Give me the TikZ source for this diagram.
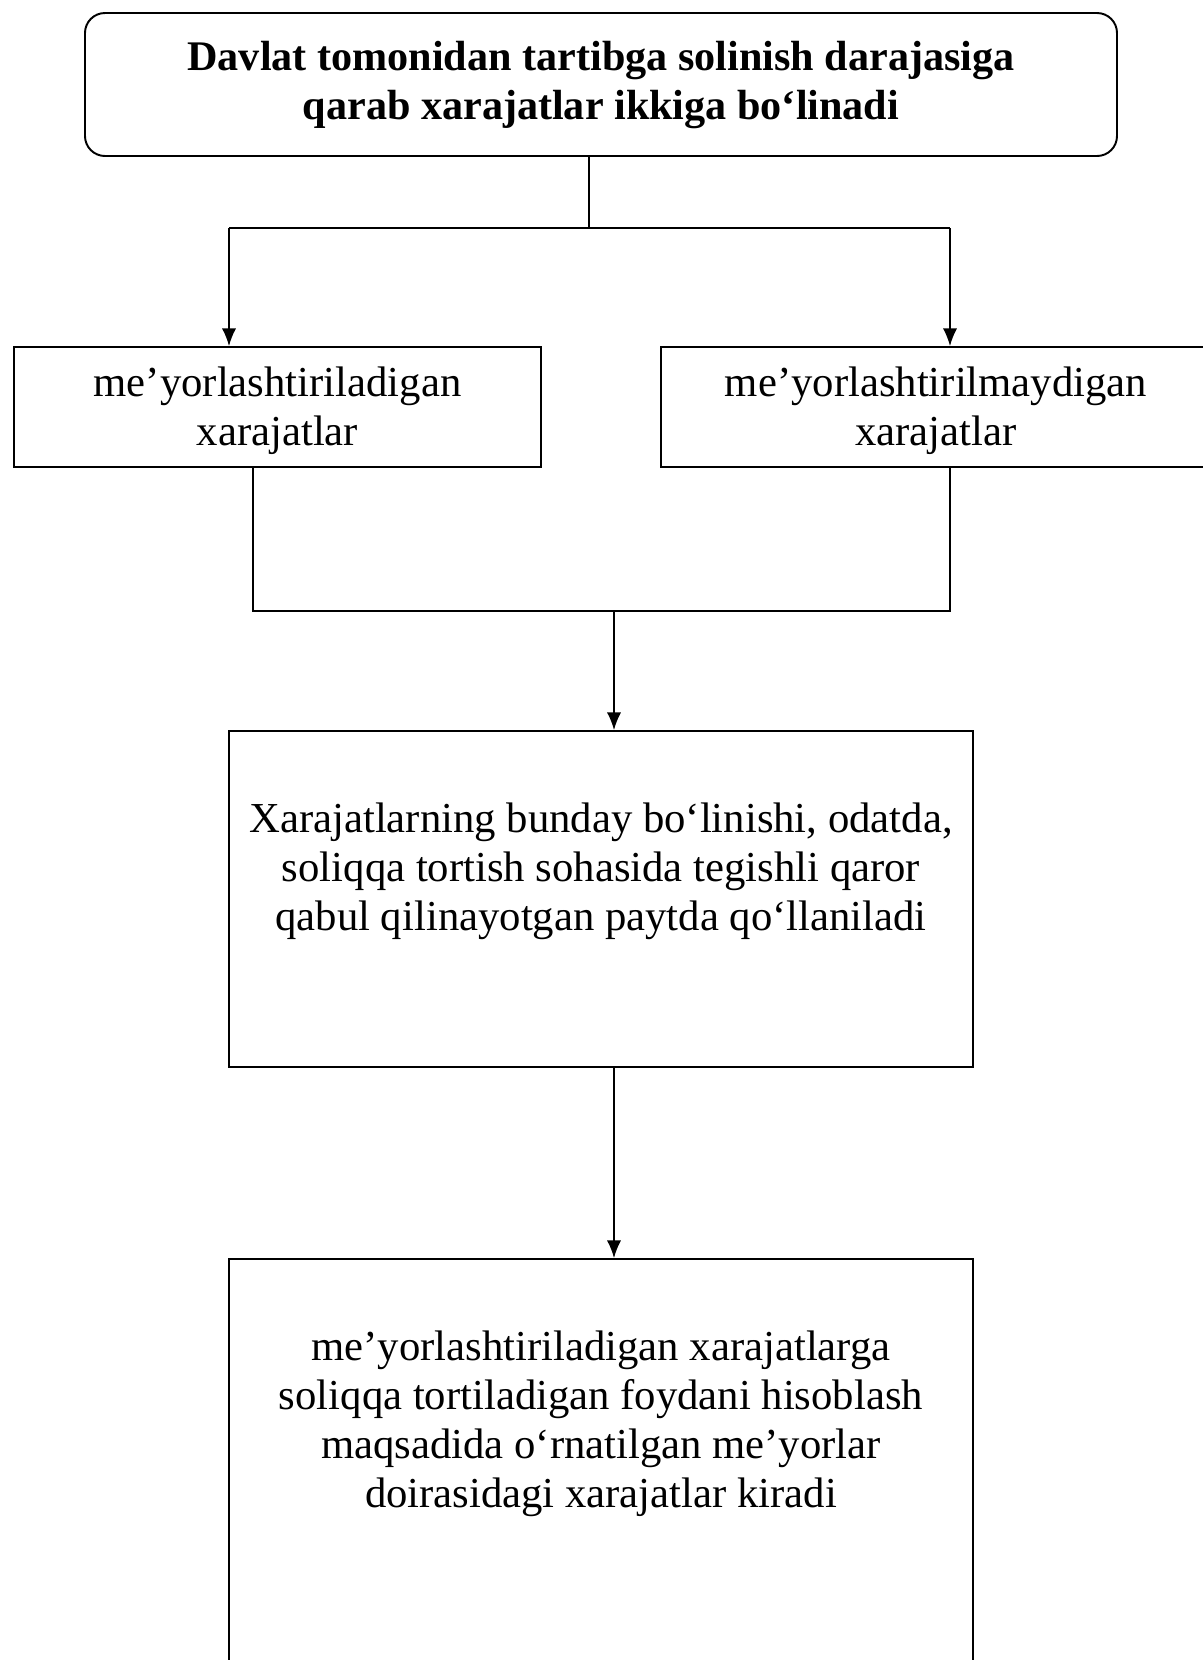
\documentclass[tikz,border=0pt]{standalone}
\usepackage{fontspec}
\setmainfont{Liberation Serif}
\usepackage{tikz}
\usetikzlibrary{arrows.meta,calc}

\begin{document}
\begin{tikzpicture}[x=0.2mm, y=-0.2mm, >={Latex[length=10pt,width=8pt]},
    box/.style={draw, line width=1.1pt, inner sep=0pt},
    txt/.style={align=center, font=\fontsize{24.3}{27.8}\selectfont},
    line/.style={line width=0.8pt}]
    % Chegara
    \clip (0,0) rectangle (1203,1660);

    % Bloklar
    \node[box, rounded corners=4mm, minimum width=206.4mm, minimum height=28.6mm] (top) at (601,84.5) {};
    \node[txt, font=\fontsize{24}{27.8}\selectfont\bfseries] (toptxt) at (601,85)
        {Davlat tomonidan tartibga solinish darajasiga\\qarab xarajatlar ikkiga bo‘linadi};

    \node[box, minimum width=105.4mm, minimum height=24mm] (left) at (277.5,407) {};
    \node[txt] (lefttxt) at (277.5,411) {me’yorlashtiriladigan\\xarajatlar};

    \node[box, minimum width=110.4mm, minimum height=24mm] (right) at (937,407) {};
    \node[txt] (righttxt) at (936,411) {me’yorlashtirilmaydigan\\xarajatlar};

    \node[box, minimum width=148.8mm, minimum height=67.2mm] (mid) at (601,899) {};
    \node[txt] (midtxt) at (601,871)
        {Xarajatlarning bunday bo‘linishi, odatda,\\soliqqa tortish sohasida tegishli qaror\\qabul qilinayotgan paytda qo‘llaniladi};

    \node[box, minimum width=148.8mm, minimum height=88.2mm] (bot) at (601,1479.5) {};
    \node[txt] (bottxt) at (601,1424)
        {me’yorlashtiriladigan xarajatlarga\\soliqqa tortiladigan foydani hisoblash\\maqsadida o‘rnatilgan me’yorlar\\doirasidagi xarajatlar kiradi};

    % Tugun nuqtalari
    \coordinate (j1) at (589,228);
    \coordinate (s1) at (229,228);
    \coordinate (s2) at (950,228);
    \coordinate (l2) at (253,611);
    \coordinate (r2) at (950,611);
    \coordinate (j2) at (614,611);

    % Ulovchi chiziqlar
    \draw[line] (top.south -| j1) -- (j1);
    \draw[line] (s1) -- (s2);
    \draw[line, ->] (s1) -- (s1 |- left.north);
    \draw[line, ->] (s2) -- (s2 |- right.north);
    \draw[line] (left.south -| l2) -- (l2) -- (r2) -- (right.south -| r2);
    \draw[line, ->] (j2) -- (j2 |- mid.north);
    \draw[line, ->] (mid.south -| j2) -- (bot.north -| j2);
\end{tikzpicture}
\end{document}
